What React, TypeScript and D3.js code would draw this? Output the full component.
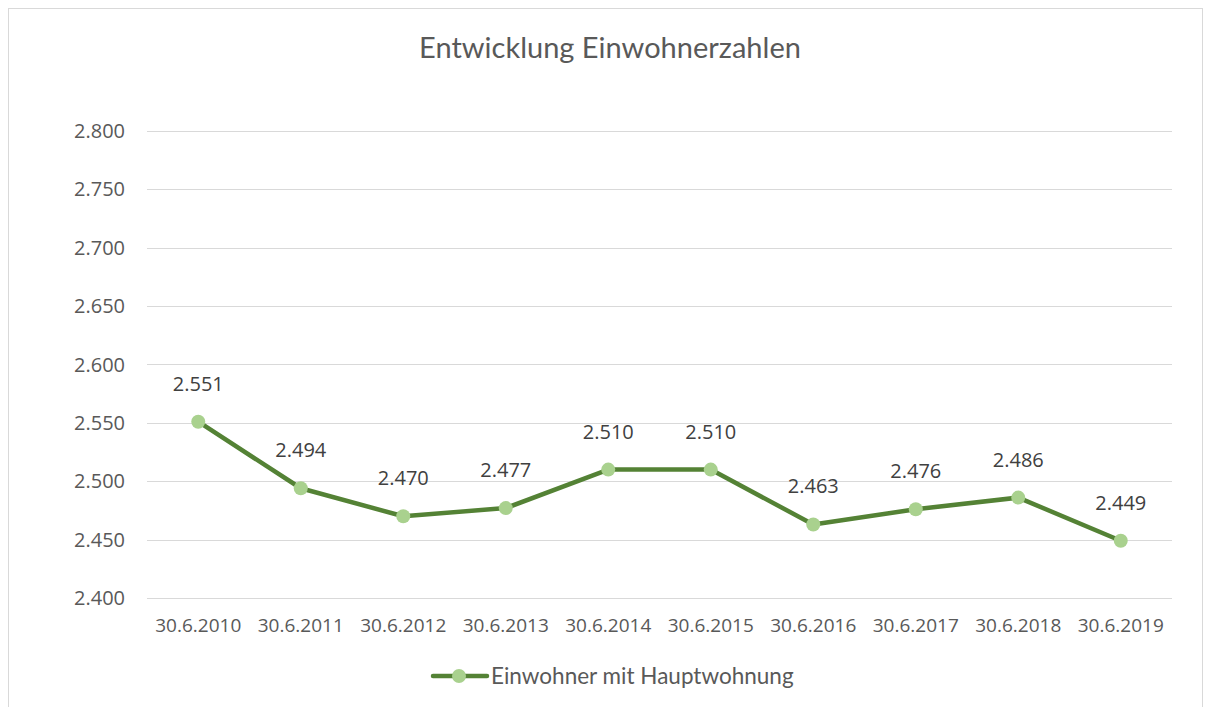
import React, { useRef, useEffect } from 'react';
import * as d3 from 'd3';

const categories = [
  '30.6.2010', '30.6.2011', '30.6.2012', '30.6.2013', '30.6.2014',
  '30.6.2015', '30.6.2016', '30.6.2017', '30.6.2018', '30.6.2019',
];
const values = [2.551, 2.494, 2.470, 2.477, 2.510, 2.510, 2.463, 2.476, 2.486, 2.449];
const yTicks = [2.4, 2.45, 2.5, 2.55, 2.6, 2.65, 2.7, 2.75, 2.8];
const seriesName = 'Einwohner mit Hauptwohnung';
const chartTitle = 'Entwicklung Einwohnerzahlen';

const W = 1210;
const H = 707;

const fmt = (v: number) => v.toFixed(3);

const Chart = () => {
  const svgRef = useRef<SVGSVGElement>(null);

  useEffect(() => {
    const svg = d3.select(svgRef.current)
      .attr('width', W)
      .attr('height', H)
      .html('');

    const labelFont = "'Open Sans', 'Noto Sans', sans-serif";
    const titleFont = "Lato, 'Open Sans', sans-serif";

    // Outer frame
    svg.append('rect')
      .attr('x', 8.5).attr('y', 8.5)
      .attr('width', 1194).attr('height', 720)
      .attr('fill', '#fff')
      .attr('stroke', '#d9d9d9');

    // Scales
    const x = d3.scaleBand<string>()
      .domain(categories)
      .range([147, 1172]);
    const y = d3.scaleLinear()
      .domain([2.4, 2.8])
      .range([598, 131]);

    // Grid
    svg.append('g')
      .selectAll('line')
      .data(yTicks)
      .join('line')
      .attr('x1', 147).attr('x2', 1172)
      .attr('y1', d => Math.round(y(d)) + 0.5)
      .attr('y2', d => Math.round(y(d)) + 0.5)
      .attr('stroke', '#d9d9d9')
      .attr('stroke-width', 1);

    // Y labels
    svg.append('g')
      .selectAll('text')
      .data(yTicks)
      .join('text')
      .attr('x', 125)
      .attr('y', d => y(d))
      .attr('dy', '0.35em')
      .attr('text-anchor', 'end')
      .attr('font-family', labelFont)
      .attr('font-size', 20)
      .attr('fill', '#595959')
      .text(d => fmt(d));

    // X labels
    svg.append('g')
      .selectAll('text')
      .data(categories)
      .join('text')
      .attr('x', d => x(d)! + x.bandwidth() / 2)
      .attr('y', 625)
      .attr('dy', '0.35em')
      .attr('text-anchor', 'middle')
      .attr('font-family', labelFont)
      .attr('font-size', 19)
      .attr('fill', '#595959')
      .text(d => d);

    const pts = categories.map((c, i) => ({ c, v: values[i] }));
    const line = d3.line<{ c: string; v: number }>()
      .x(d => x(d.c)! + x.bandwidth() / 2)
      .y(d => y(d.v));

    svg.append('path')
      .datum(pts)
      .attr('fill', 'none')
      .attr('stroke', '#548235')
      .attr('stroke-width', 4.5)
      .attr('stroke-linejoin', 'round')
      .attr('d', line);

    svg.append('g')
      .selectAll('circle')
      .data(pts)
      .join('circle')
      .attr('cx', d => x(d.c)! + x.bandwidth() / 2)
      .attr('cy', d => y(d.v))
      .attr('r', 7)
      .attr('fill', '#a9d18e');

    // Data labels
    svg.append('g')
      .selectAll('text')
      .data(pts)
      .join('text')
      .attr('x', d => x(d.c)! + x.bandwidth() / 2)
      .attr('y', d => y(d.v) - 38)
      .attr('dy', '0.35em')
      .attr('text-anchor', 'middle')
      .attr('font-family', labelFont)
      .attr('font-size', 20)
      .attr('fill', '#404040')
      .text(d => fmt(d.v));

    // Title
    svg.append('text')
      .attr('x', 610)
      .attr('y', 48)
      .attr('dy', '0.35em')
      .attr('text-anchor', 'middle')
      .attr('font-family', titleFont)
      .attr('font-size', 29)
      .attr('fill', '#595959')
      .text(chartTitle);

    // Legend
    const lg = svg.append('g');
    lg.append('line')
      .attr('x1', 433).attr('x2', 487)
      .attr('y1', 676).attr('y2', 676)
      .attr('stroke', '#548235')
      .attr('stroke-width', 4.5)
      .attr('stroke-linecap', 'round');
    lg.append('circle')
      .attr('cx', 459).attr('cy', 676).attr('r', 7)
      .attr('fill', '#a9d18e');
    lg.append('text')
      .attr('x', 491).attr('y', 676)
      .attr('dy', '0.35em')
      .attr('font-family', titleFont)
      .attr('font-size', 22.5)
      .attr('fill', '#595959')
      .text(seriesName);
  }, []);

  return <svg ref={svgRef} style={{ display: 'block' }} />;
};

export default function App() {
  return (
    <div style={{ position: 'fixed', left: 0, top: 0, width: W, height: H, overflow: 'hidden', background: '#fff' }}>
      <Chart />
    </div>
  );
}
